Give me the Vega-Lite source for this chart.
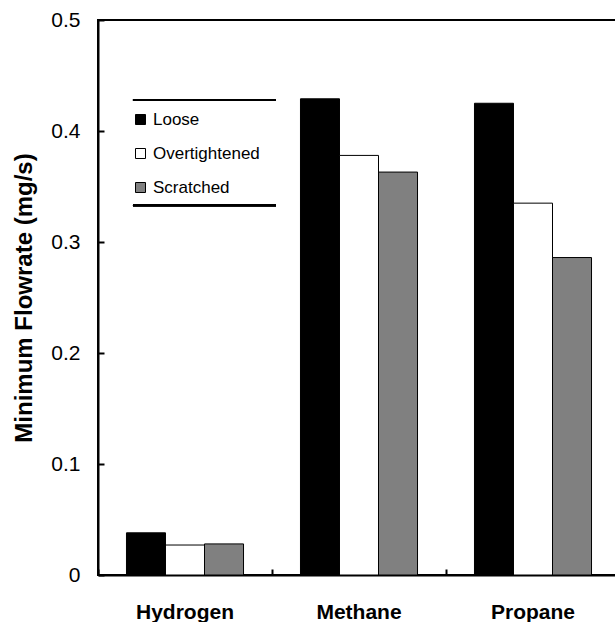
{
  "$schema": "https://vega.github.io/schema/vega-lite/v6.json",
  "width": 522,
  "height": 555,
  "autosize": "none",
  "padding": {"left": 98, "top": 20, "right": 0, "bottom": 47},
  "config": {
    "font": "Liberation Sans",
    "view": {"stroke": "black", "strokeWidth": 2},
    "axis": {"domainColor": "black", "domainWidth": 2, "tickColor": "black", "tickWidth": 2, "labelColor": "black", "titleColor": "black", "grid": false},
    "legend": {"labelColor": "black"}
  },
  "data": {
    "values": [
      {"gas": "Hydrogen", "condition": "Loose", "flow": 0.038},
      {"gas": "Hydrogen", "condition": "Overtightened", "flow": 0.027},
      {"gas": "Hydrogen", "condition": "Scratched", "flow": 0.028},
      {"gas": "Methane", "condition": "Loose", "flow": 0.429},
      {"gas": "Methane", "condition": "Overtightened", "flow": 0.378},
      {"gas": "Methane", "condition": "Scratched", "flow": 0.363},
      {"gas": "Propane", "condition": "Loose", "flow": 0.425},
      {"gas": "Propane", "condition": "Overtightened", "flow": 0.335},
      {"gas": "Propane", "condition": "Scratched", "flow": 0.286}
    ]
  },
  "layer": [
    {
      "mark": {"type": "bar", "stroke": "black", "strokeWidth": 1},
      "encoding": {
        "x": {
          "field": "gas", "type": "nominal", "sort": ["Hydrogen", "Methane", "Propane"],
          "scale": {"paddingInner": 0, "paddingOuter": 0},
          "axis": {"title": null, "labelAngle": 0, "labelFontSize": 21, "labelFontWeight": "bold", "bandPosition": 0, "tickSize": -6, "labelPadding": 32}
        },
        "xOffset": {
          "field": "condition", "type": "nominal", "sort": ["Loose", "Overtightened", "Scratched"],
          "scale": {"paddingInner": 0, "paddingOuter": 0.73}
        },
        "y": {
          "field": "flow", "type": "quantitative",
          "scale": {"domain": [0, 0.5]},
          "axis": {
            "values": [0, 0.1, 0.2, 0.3, 0.4, 0.5],
            "labelExpr": "datum.value == 0 ? '0' : format(datum.value, '.1f')",
            "title": "Minimum Flowrate (mg/s)", "titleFontSize": 24, "titleFontWeight": "bold",
            "labelFontSize": 21, "tickSize": -6, "labelPadding": 24, "titlePadding": 14
          }
        },
        "fill": {
          "field": "condition", "type": "nominal", "sort": ["Loose", "Overtightened", "Scratched"],
          "scale": {"domain": ["Loose", "Overtightened", "Scratched"], "range": ["#000000", "#ffffff", "#808080"]},
          "legend": {
            "title": null, "orient": "none", "legendX": 34, "legendY": 91, "padding": 0,
            "symbolType": "square", "symbolSize": 100, "symbolStrokeColor": "black", "symbolStrokeWidth": 1,
            "symbolOpacity": 1, "labelFontSize": 17, "rowPadding": 16, "labelOffset": 4
          }
        }
      }
    },
    {
      "mark": {"type": "rule", "stroke": "black", "strokeWidth": 2},
      "encoding": {
        "x": {"datum": 0.201, "type": "quantitative", "scale": {"domain": [0, 3]}, "axis": null},
        "x2": {"datum": 1.023},
        "y": {"datum": 0.428, "type": "quantitative"}
      }
    },
    {
      "mark": {"type": "rule", "stroke": "black", "strokeWidth": 2},
      "encoding": {
        "x": {"datum": 0.201, "type": "quantitative", "scale": {"domain": [0, 3]}, "axis": null},
        "x2": {"datum": 1.023},
        "y": {"datum": 0.333, "type": "quantitative"}
      }
    }
  ],
  "resolve": {"scale": {"x": "independent"}}
}
